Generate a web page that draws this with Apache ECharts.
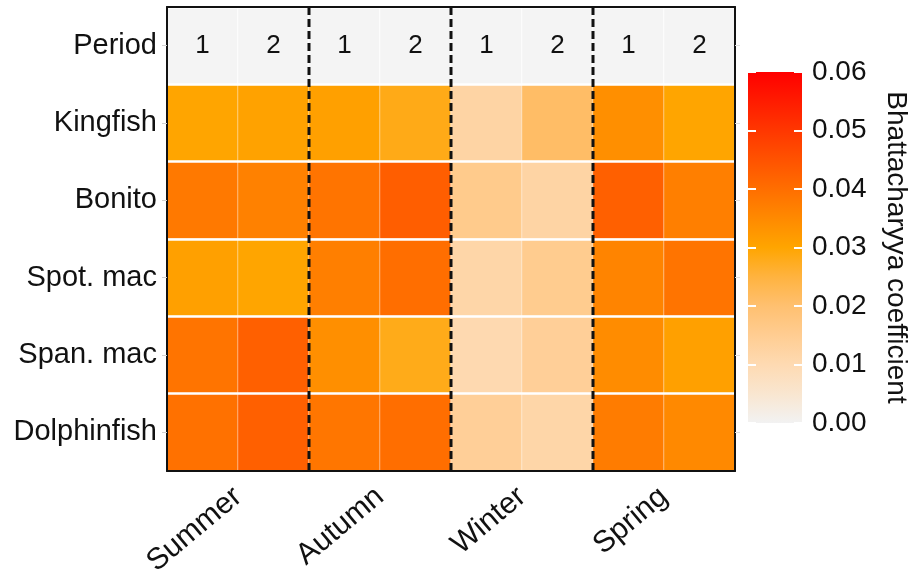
<!DOCTYPE html>
<html>
<head>
<meta charset="utf-8">
<title>Bhattacharyya coefficient by season</title>
<script src="https://cdn.jsdelivr.net/npm/echarts@6/dist/echarts.min.js"></script>
<style>
  html, body { margin: 0; padding: 0; background: #ffffff; }
  #chart { width: 920px; height: 580px; }
</style>
</head>
<body>
<div id="chart"></div>
<script>
// Seasons, each split into two sampling periods
const seasons = ['Summer', 'Autumn', 'Winter', 'Spring'];
const periods = ['1', '2'];
const headerLabel = 'Period';
const species = ['Kingfish', 'Bonito', 'Spot. mac', 'Span. mac', 'Dolphinfish'];

// Bhattacharyya coefficient per species, columns: Summer 1, Summer 2, Autumn 1, Autumn 2, Winter 1, Winter 2, Spring 1, Spring 2
const kingfish    = [0.0300, 0.0305, 0.0310, 0.0282, 0.0122, 0.0210, 0.0340, 0.0300];
const bonito      = [0.0380, 0.0365, 0.0390, 0.0430, 0.0159, 0.0122, 0.0425, 0.0370];
const spotMac     = [0.0310, 0.0300, 0.0370, 0.0400, 0.0116, 0.0155, 0.0360, 0.0390];
const spanMac     = [0.0390, 0.0425, 0.0340, 0.0280, 0.0103, 0.0141, 0.0345, 0.0310];
const dolphinfish = [0.0395, 0.0425, 0.0385, 0.0400, 0.0141, 0.0116, 0.0375, 0.0350];

// Colour scale: grey -> peach -> orange -> red
const scaleMin = 0;
const scaleMax = 0.06;
const scaleStep = 0.01;
const scaleStops = [0, 0.005, 0.01, 0.015, 0.02, 0.025, 0.03, 0.06];
const scaleColors = ['#f2f2f2', '#f9e6d0', '#fedab2', '#ffcd92', '#ffc070', '#ffb33f', '#ffa500', '#ff0000'];
const legendTitle = 'Bhattacharyya coefficient';

const speciesValues = [kingfish, bonito, spotMac, spanMac, dolphinfish];
const rowLabels = [headerLabel].concat(species);
const columnKeys = [];
seasons.forEach(s => periods.forEach(p => columnKeys.push(s + '-' + p)));
const nCols = columnKeys.length;
const seasonBreaks = seasons.slice(1).map((s, i) => [(i + 1) * periods.length, 0]);

const cellData = [];
speciesValues.forEach((vals, r) => {
  vals.forEach((v, c) => cellData.push([c, r + 1, v]));
});
const headerData = columnKeys.map((k, c) => [c, 0, periods[c % periods.length]]);

// Piecewise-linear colour lookup shared by the cells and the legend bar
function hexToRgb(h) {
  return [1, 3, 5].map(i => parseInt(h.substr(i, 2), 16));
}
function colorFor(v) {
  let i = 0;
  while (i < scaleStops.length - 2 && v > scaleStops[i + 1]) i++;
  const t = Math.max(0, Math.min(1, (v - scaleStops[i]) / (scaleStops[i + 1] - scaleStops[i])));
  const a = hexToRgb(scaleColors[i]), b = hexToRgb(scaleColors[i + 1]);
  const c = a.map((x, k) => Math.round(x + (b[k] - x) * t));
  return 'rgb(' + c.join(',') + ')';
}

const FONT = "'Liberation Sans', Arial, Helvetica, sans-serif";
const TEXT = '#111111';

const chart = echarts.init(document.getElementById('chart'), null, { renderer: 'canvas' });

chart.setOption({
  backgroundColor: '#ffffff',
  animation: false,
  textStyle: { fontFamily: FONT },
  grid: [
    { left: 167, right: 185, top: 7, bottom: 109 },
    { left: 748, width: 54, top: 72, bottom: 157 }
  ],
  xAxis: [
    {
      type: 'category', gridIndex: 0, data: columnKeys, position: 'bottom', z: 15,
      axisLine: { show: true, lineStyle: { color: '#111', width: 2 } },
      axisTick: { show: false }, axisLabel: { show: false }, splitLine: { show: false }
    },
    {
      type: 'category', gridIndex: 0, data: seasons, position: 'bottom',
      axisLine: { show: false }, axisTick: { show: false }, splitLine: { show: false },
      axisLabel: { rotate: 40, fontSize: 30, color: TEXT, margin: 22, fontFamily: FONT }
    },
    {
      type: 'value', gridIndex: 0, min: 0, max: nCols, position: 'top', z: 15,
      axisLine: { show: true, lineStyle: { color: '#111', width: 2 } },
      axisTick: { show: false }, axisLabel: { show: false }, splitLine: { show: false }
    },
    {
      type: 'category', gridIndex: 1, data: [legendTitle], show: false
    }
  ],
  yAxis: [
    {
      type: 'category', gridIndex: 0, data: rowLabels, inverse: true, position: 'left', z: 15,
      axisLine: { show: true, lineStyle: { color: '#111', width: 2 } },
      axisTick: { show: true, alignWithLabel: true, length: 5, lineStyle: { color: '#d0d0d0' } },
      axisLabel: { fontSize: 29, color: TEXT, margin: 10, fontFamily: FONT },
      splitLine: { show: false }
    },
    {
      type: 'category', gridIndex: 0, data: rowLabels, inverse: true, position: 'right', z: 8,
      axisLine: { show: true, lineStyle: { color: '#111', width: 2 } },
      axisTick: { show: true, alignWithLabel: true, length: 5, lineStyle: { color: '#e0e0e0' } },
      axisLabel: { show: false },
      splitLine: { show: true, lineStyle: { color: '#ffffff', width: 2.5 } }
    },
    {
      type: 'value', gridIndex: 1, min: scaleMin, max: scaleMax, interval: scaleStep, position: 'right', z: 10,
      axisLine: { show: false },
      axisTick: { show: true, inside: true, length: 8, lineStyle: { color: '#ffffff', width: 2 } },
      axisLabel: { fontSize: 28, color: TEXT, margin: 10, fontFamily: FONT, formatter: v => v.toFixed(2) },
      splitLine: { show: false },
      name: legendTitle, nameLocation: 'middle', nameRotate: -90, nameGap: 80,
      nameTextStyle: { fontSize: 28, color: TEXT, fontFamily: FONT }
    },
    {
      type: 'value', gridIndex: 1, min: scaleMin, max: scaleMax, interval: scaleStep, position: 'left', z: 10,
      axisLine: { show: false },
      axisTick: { show: true, inside: true, length: 8, lineStyle: { color: '#ffffff', width: 2 } },
      axisLabel: { show: false }, splitLine: { show: false }
    }
  ],
  series: [
    {
      name: 'coefficient', type: 'heatmap', xAxisIndex: 0, yAxisIndex: 0,
      data: cellData.map(d => ({ value: d, itemStyle: { color: colorFor(d[2]) } })),
      itemStyle: { borderColor: 'rgba(255,255,255,0.45)', borderWidth: 1 },
      emphasis: { disabled: true }
    },
    {
      name: 'period', type: 'heatmap', xAxisIndex: 0, yAxisIndex: 0,
      data: headerData,
      itemStyle: { color: '#f4f4f4', borderColor: 'rgba(255,255,255,0.9)', borderWidth: 1 },
      label: { show: true, fontSize: 26, color: TEXT, fontFamily: FONT, formatter: p => p.data[2] },
      emphasis: { disabled: true }
    },
    {
      name: 'season breaks', type: 'custom', xAxisIndex: 2, yAxisIndex: 0, z: 12,
      data: seasonBreaks,
      encode: { x: 0, y: 1 },
      renderItem: function (params, api) {
        const x = api.coord([api.value(0), 0])[0];
        const cs = params.coordSys;
        return {
          type: 'line',
          shape: { x1: x, y1: cs.y, x2: x, y2: cs.y + cs.height },
          style: { stroke: '#111', lineWidth: 3, lineDash: [8, 4] }
        };
      }
    },
    {
      name: 'legend bar', type: 'bar', xAxisIndex: 3, yAxisIndex: 2,
      data: [scaleMax], barWidth: '100%', silent: true,
      itemStyle: {
        color: {
          type: 'linear', x: 0, y: 1, x2: 0, y2: 0,
          colorStops: scaleColors.map((c, i) => ({ offset: (scaleStops[i] - scaleMin) / (scaleMax - scaleMin), color: c }))
        }
      }
    }
  ]
});
</script>
</body>
</html>
